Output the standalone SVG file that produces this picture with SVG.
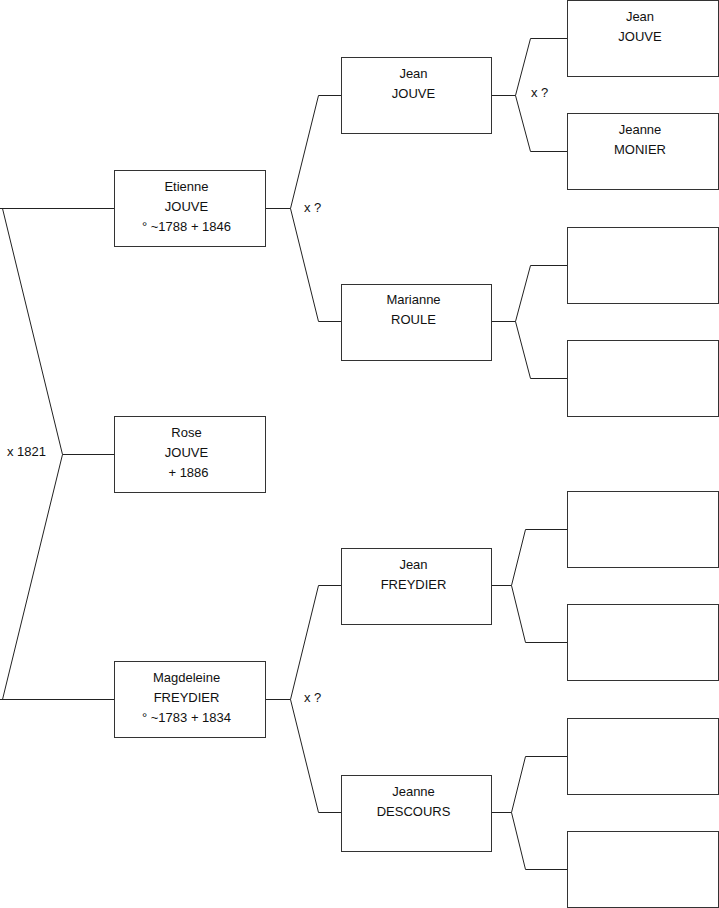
<svg xmlns="http://www.w3.org/2000/svg" width="719" height="908" viewBox="0 0 719 908">
<style>
.box{fill:#fff;stroke:#333;stroke-width:1}
.ln{fill:none;stroke:#222;stroke-width:1}
text{font-family:"Liberation Sans",Arial,sans-serif;font-size:13px;fill:#111}
.c{text-anchor:middle}
</style>
<rect width="719" height="908" fill="#fff"/>
<g id="connectors">
<path class="ln" d="M0,208.5 H114.5 M2.5,208.5 L62.5,454.5 H114.5 M62.5,454.5 L2.5,699.5 M0,699.5 H114.5"/>
<path class="ln" d="M265.5,208.5 H290.5 L318.5,95.5 H341.5 M290.5,208.5 L318.5,321.5 H341.5"/>
<path class="ln" d="M265.5,699.5 H290.5 L318.5,585.5 H341.5 M290.5,699.5 L318.5,812.5 H341.5"/>
<path class="ln" d="M491.5,95.5 H515.5 L530.5,38.5 H567.5 M515.5,95.5 L530.5,151.5 H567.5"/>
<path class="ln" d="M491.5,321.5 H515.5 L530.5,265.5 H567.5 M515.5,321.5 L530.5,378.5 H567.5"/>
<path class="ln" d="M491.5,585.5 H511.5 L525.5,529.5 H567.5 M511.5,585.5 L525.5,642.5 H567.5"/>
<path class="ln" d="M491.5,812.5 H511.5 L525.5,756.5 H567.5 M511.5,812.5 L525.5,869.5 H567.5"/>
<text x="7" y="456">x 1821</text>
<text x="304" y="212">x ?</text>
<text x="304" y="702">x ?</text>
<text x="531" y="97">x ?</text>
</g>
<g id="rose">
<rect class="box" x="114.5" y="416.5" width="151" height="76"/>
<text class="c" x="186.5" y="437">Rose</text>
<text class="c" x="186.5" y="457">JOUVE</text>
<text class="c" x="188.5" y="477">+ 1886</text>
</g>
<g id="etienne">
<rect class="box" x="114.5" y="170.5" width="151" height="76"/>
<text class="c" x="186.5" y="191">Etienne</text>
<text class="c" x="186.5" y="211">JOUVE</text>
<text class="c" x="186.5" y="231">° ~1788 + 1846</text>
</g>
<g id="magdeleine">
<rect class="box" x="114.5" y="661.5" width="151" height="76"/>
<text class="c" x="186.5" y="682">Magdeleine</text>
<text class="c" x="186.5" y="702">FREYDIER</text>
<text class="c" x="186.5" y="722">° ~1783 + 1834</text>
</g>
<g id="jean-jouve-2">
<rect class="box" x="341.5" y="57.5" width="150" height="76"/>
<text class="c" x="413.5" y="78">Jean</text>
<text class="c" x="413.5" y="98">JOUVE</text>
</g>
<g id="marianne">
<rect class="box" x="341.5" y="284.5" width="150" height="76"/>
<text class="c" x="413.5" y="304">Marianne</text>
<text class="c" x="413.5" y="324">ROULE</text>
</g>
<g id="jean-freydier">
<rect class="box" x="341.5" y="548.5" width="150" height="76"/>
<text class="c" x="413.5" y="569">Jean</text>
<text class="c" x="413.5" y="589">FREYDIER</text>
</g>
<g id="jeanne-descours">
<rect class="box" x="341.5" y="775.5" width="150" height="76"/>
<text class="c" x="413.5" y="796">Jeanne</text>
<text class="c" x="413.5" y="816">DESCOURS</text>
</g>
<g id="jean-jouve-3">
<rect class="box" x="567.5" y="0.5" width="151" height="76"/>
<text class="c" x="640" y="21">Jean</text>
<text class="c" x="640" y="41">JOUVE</text>
</g>
<g id="jeanne-monier">
<rect class="box" x="567.5" y="113.5" width="151" height="76"/>
<text class="c" x="640" y="134">Jeanne</text>
<text class="c" x="640" y="154">MONIER</text>
</g>
<g id="empty-1"><rect class="box" x="567.5" y="227.5" width="151" height="76"/></g>
<g id="empty-2"><rect class="box" x="567.5" y="340.5" width="151" height="76"/></g>
<g id="empty-3"><rect class="box" x="567.5" y="491.5" width="151" height="76"/></g>
<g id="empty-4"><rect class="box" x="567.5" y="604.5" width="151" height="76"/></g>
<g id="empty-5"><rect class="box" x="567.5" y="718.5" width="151" height="76"/></g>
<g id="empty-6"><rect class="box" x="567.5" y="831.5" width="151" height="76"/></g>
</svg>
